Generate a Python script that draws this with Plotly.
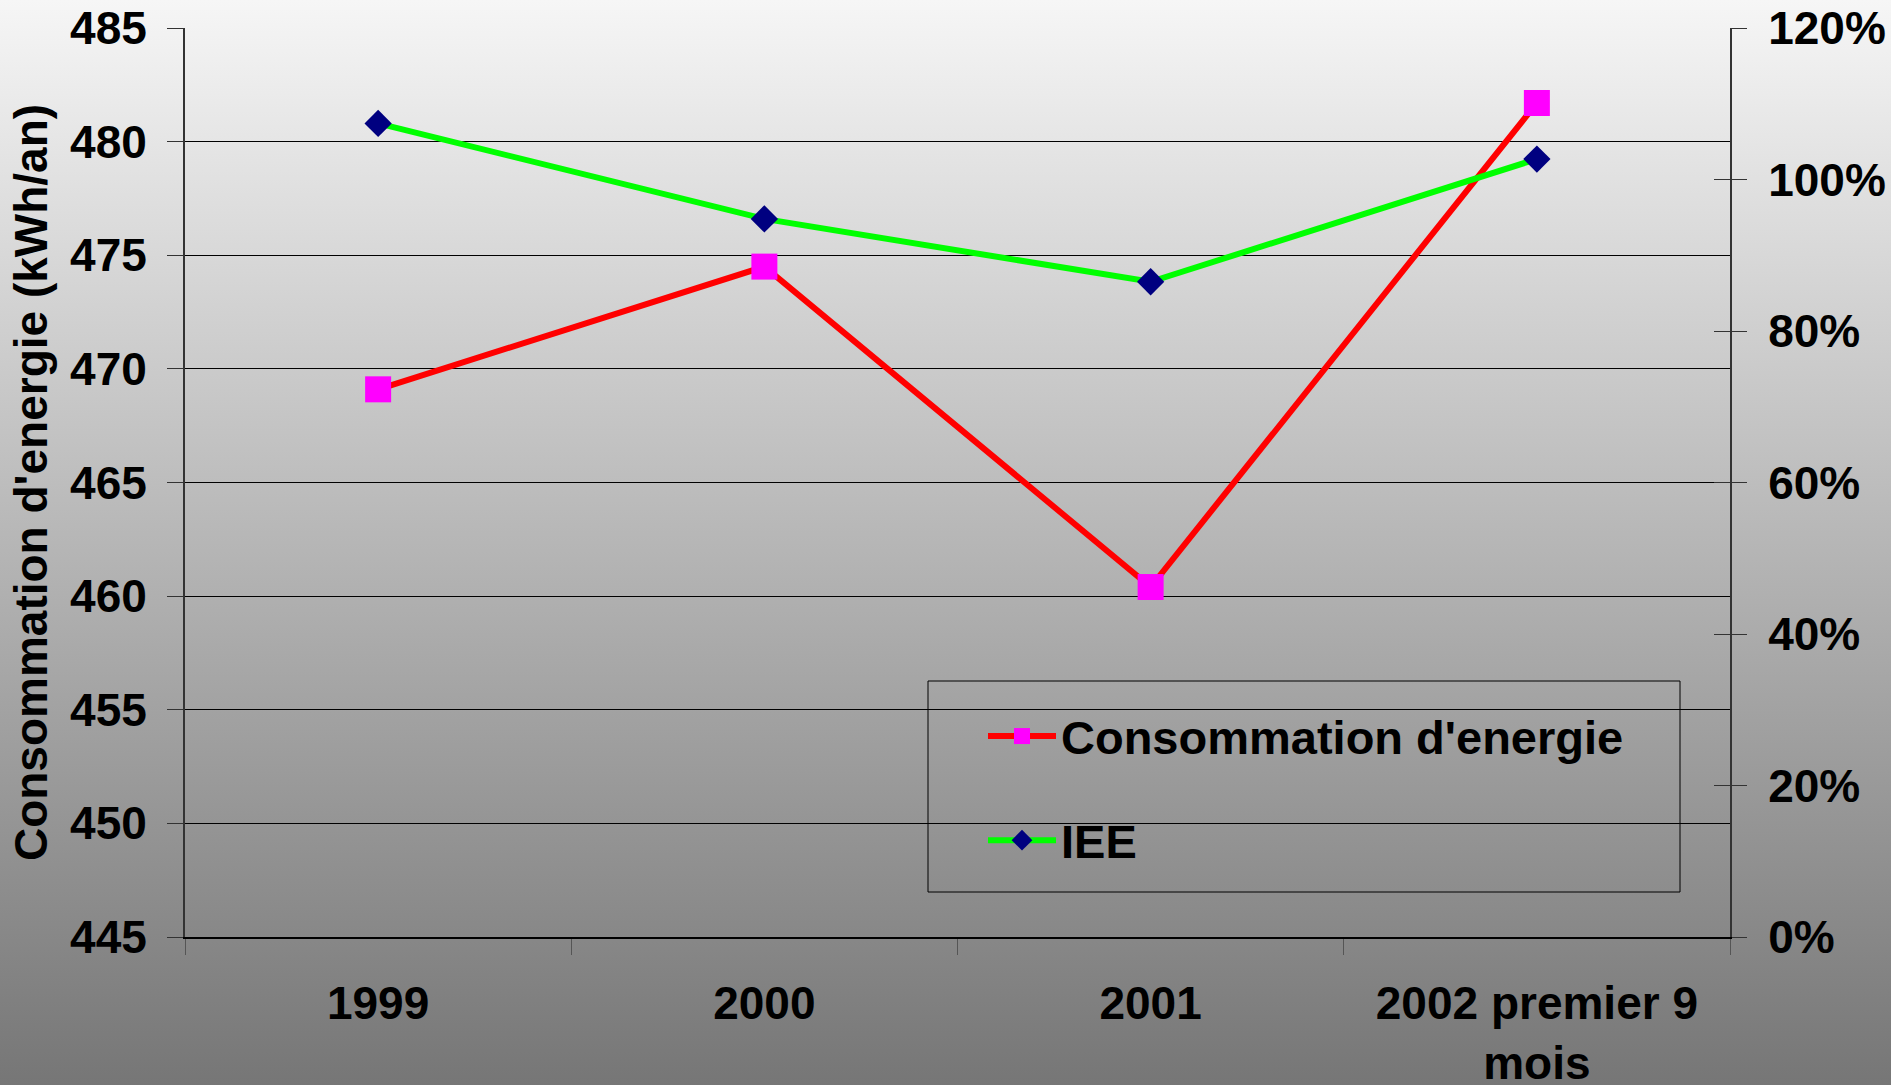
import base64
import plotly.graph_objects as go

categories = ["1999", "2000", "2001", "2002 premier 9<br>mois"]
consommation = [469.1, 474.5, 460.4, 481.7]
iee = [1.074, 0.948, 0.865, 1.027]
left_ticks = [445, 450, 455, 460, 465, 470, 475, 480, 485]
right_ticks = [0, 0.2, 0.4, 0.6, 0.8, 1.0, 1.2]
right_labels = ["0%", "20%", "40%", "60%", "80%", "100%", "120%"]

W, H = 1891, 1085
L, R, T, B = 185, 1730, 28, 937
pw, ph = R - L, B - T

FONT = "Liberation Sans, Arial, sans-serif"
fnt = dict(family=FONT, size=46, color="black", weight="bold")

svg = (
    "<svg xmlns='http://www.w3.org/2000/svg' width='1891' height='1085' preserveAspectRatio='none'>"
    "<defs><linearGradient id='g' x1='0' y1='0' x2='0' y2='1'>"
    "<stop offset='0' stop-color='#f6f6f6'/><stop offset='1' stop-color='#767676'/>"
    "</linearGradient></defs><rect width='1891' height='1085' fill='url(#g)'/></svg>"
)
uri = "data:image/svg+xml;base64," + base64.b64encode(svg.encode()).decode()

fig = go.Figure()
fig.add_trace(go.Scatter(
    x=categories, y=consommation, name="Consommation d'energie",
    mode="lines+markers", line=dict(color="#ff0000", width=6),
    marker=dict(symbol="square", size=26, color="#ff00ff", line=dict(width=0)),
    legendgroup="a", yaxis="y"))
fig.add_trace(go.Scatter(
    x=categories, y=iee, name="IEE",
    mode="lines+markers", line=dict(color="#00ff00", width=6),
    marker=dict(symbol="diamond", size=21, color="#000080", line=dict(width=0)),
    legendgroup="b", yaxis="y2"))
# invisible trace to carry the inside ticks of the right axis
fig.add_trace(go.Scatter(x=categories, y=iee, yaxis="y3", mode="lines",
                         line=dict(width=0), opacity=0, showlegend=False, hoverinfo="skip"))

# legend frame (paper coordinates relative to plot area)
box_x0, box_x1, box_y0, box_y1 = 928, 1680, 681, 892

fig.update_layout(
    width=W, height=H,
    margin=dict(l=L, r=W - R, t=T, b=H - B, autoexpand=False),
    paper_bgcolor="#b0b0b0", plot_bgcolor="rgba(0,0,0,0)",
    font=fnt,
    images=[dict(source=uri, xref="paper", yref="paper",
                 x=-L / pw, y=1 + T / ph, sizex=W / pw, sizey=H / ph,
                 xanchor="left", yanchor="top", sizing="stretch", layer="below")],
    shapes=[dict(type="rect", xref="paper", yref="paper",
                 x0=(box_x0 - L) / pw, x1=(box_x1 - L) / pw,
                 y0=(B - box_y1) / ph, y1=(B - box_y0) / ph,
                 line=dict(color="black", width=1), fillcolor="rgba(0,0,0,0)", layer="above")],
    xaxis=dict(type="category", tickson="boundaries", ticks="outside", ticklen=16,
               tickcolor="#555555", tickwidth=1, showgrid=False, showline=True,
               linecolor="black", linewidth=2, tickfont=fnt, ticklabelstandoff=25,
               range=[-0.5, 3.5]),
    yaxis=dict(range=[445, 485], tickvals=left_ticks, ticks="outside", ticklen=16,
               tickcolor="#333333", showgrid=True, gridcolor="black", gridwidth=1,
               showline=True, linecolor="#333333", linewidth=2, zeroline=False,
               tickfont=fnt, ticklabelstandoff=11,
               title=dict(text="Consommation d'energie (kWh/an)", font=fnt, standoff=8)),
    yaxis2=dict(overlaying="y", side="right", range=[0, 1.2], tickvals=right_ticks,
                ticktext=right_labels, ticks="outside", ticklen=15, tickcolor="#333333",
                showgrid=False, showline=True, linecolor="#333333", linewidth=2,
                zeroline=False, tickfont=fnt, ticklabelstandoff=12),
    yaxis3=dict(overlaying="y", side="right", range=[0, 1.2], tickvals=right_ticks,
                ticks="inside", ticklen=16, tickcolor="#333333", showticklabels=False,
                showgrid=False, showline=False, zeroline=False),
    legend=dict(x=(983 - L) / pw, y=(B - 699) / ph, xanchor="left", yanchor="top",
                bgcolor="rgba(0,0,0,0)", borderwidth=0,
                font=dict(family=FONT, size=47, color="black", weight="bold"),
                itemwidth=68, tracegroupgap=40, traceorder="grouped"),
    showlegend=True,
)

fig.write_html("out.html", config={"displayModeBar": False},
               post_script="document.body.style.margin='0';document.body.style.overflow='hidden';")
